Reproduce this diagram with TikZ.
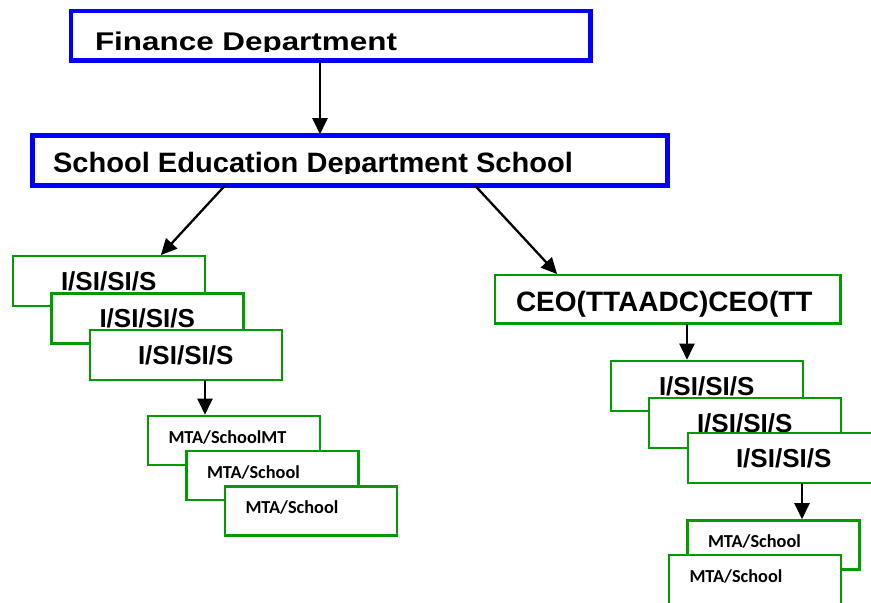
\documentclass[tikz,border=0pt]{standalone}
\usepackage{graphicx}
\usepackage{fontspec}
\setmainfont{Liberation Sans}
\newfontfamily\calfont{Carlito}
\usetikzlibrary{arrows.meta,calc}
\definecolor{boxblue}{RGB}{0,0,250}
\definecolor{boxgreen}{RGB}{0,155,0}
\begin{document}
\begin{tikzpicture}[x=1pt,y=-1pt,
  intxt/.style={anchor=base west, inner sep=0pt, outer sep=0pt, draw=none, fill=none,
    minimum width=0pt, minimum height=0pt, text=black},
  cliptxt/.style n args={5}{path picture={
    \clip (path picture bounding box.north west) rectangle ($(path picture bounding box.north east)+(0,#2+1.5)$);
    \node[intxt, font=\bfseries\fontsize{#4}{#4}\selectfont] at ($(path picture bounding box.north west)+(#1,#2)$) {\resizebox{#3}{\height}{#5}};}},
  plaintxt/.style n args={4}{path picture={
    \node[intxt, font=\bfseries\fontsize{#3}{#3}\selectfont] at ($(path picture bounding box.north west)+(#1,#2)$) {#4};}},
  mtatxt/.style n args={3}{path picture={
    \node[intxt, font=\calfont\bfseries\fontsize{18.3}{18.3}\selectfont] at ($(path picture bounding box.north west)+(#1,#2)$) {#3};}},
  bluebox/.style={draw=boxblue, line width=4.3pt, fill=white, inner sep=0pt, outer sep=0pt, anchor=north west},
  greenbox/.style={draw=boxgreen, line width=2.7pt, fill=white, inner sep=0pt, outer sep=0pt, anchor=north west},
  isibox/.style={greenbox, minimum width=192pt, minimum height=50pt, plaintxt={48}{34}{26}{I/SI/SI/S}},
  mtabox/.style={greenbox, minimum width=172pt, minimum height=49pt, mtatxt={20.5}{27.3}{#1}},
  arr/.style={-{Triangle[width=15pt,length=16pt]}, line width=2.3pt, draw=black, shorten >=1.3pt}
]
\fill[white] (0,0) rectangle (871,603);
\clip (0,0) rectangle (871,603);

\node[bluebox, minimum width=519.5pt, minimum height=49.5pt,
  cliptxt={24}{39}{302pt}{25.6}{Finance Department}] (fin) at (71,11) {};
\node[bluebox, minimum width=635pt, minimum height=50pt,
  cliptxt={20.5}{36.5}{520pt}{28}{School Education Department School}] (sch) at (32.5,135.5) {};
\node[greenbox, minimum width=345.5pt, minimum height=48.5pt,
  plaintxt={21}{36.7}{28}{CEO(TTAADC)CEO(TT}] (ceo) at (495,275) {};

\node[isibox] (li1) at (13,256) {};
\node[isibox] (li2) at (51.5,293.5) {};
\node[isibox] (li3) at (90,330) {};
\node[mtabox=MTA/SchoolMT] (lm1) at (148,416) {};
\node[mtabox=MTA/School] (lm2) at (186.5,451) {};
\node[mtabox=MTA/School] (lm3) at (225,486.5) {};

\node[isibox] (ri1) at (611,361) {};
\node[isibox] (ri2) at (649,398) {};
\node[isibox] (ri3) at (688,433) {};
\node[mtabox=MTA/School] (rm1) at (687.5,520.5) {};
\node[mtabox=MTA/School] (rm2) at (669,555) {};

\draw[arr] ([xshift=249pt]fin.south west) coordinate (a1) -- (a1 |- sch.north);
\draw[arr] ([xshift=192.5pt]sch.south west) -- ([xshift=147pt]li1.north west);
\draw[arr] ([xshift=442.5pt]sch.south west) -- ([xshift=63pt]ceo.north west);
\draw[arr] ([xshift=115pt]li3.south west) coordinate (a2) -- (a2 |- lm1.north);
\draw[arr] ([xshift=192pt]ceo.south west) coordinate (a3) -- (a3 |- ri1.north);
\draw[arr] ([xshift=114pt]ri3.south west) coordinate (a4) -- (a4 |- rm1.north);
\end{tikzpicture}
\end{document}
